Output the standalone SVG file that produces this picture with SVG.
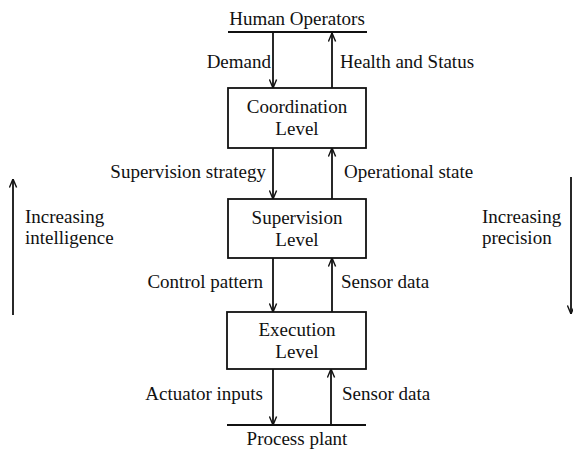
<svg xmlns="http://www.w3.org/2000/svg" width="573" height="450" viewBox="0 0 573 450">
<style>
text{font-family:"Liberation Serif","Times New Roman",serif;font-size:19px;fill:#111}
.c{text-anchor:middle}
.e{text-anchor:end}
.box{fill:#fff;stroke:#111;stroke-width:1.8}
.ln{stroke:#111;stroke-width:1.8;fill:none}
.ar{stroke:#111;stroke-width:1.8;fill:none;marker-end:url(#ah)}
</style>
<defs>
<marker id="ah" viewBox="0 0 10 10" refX="9.5" refY="5" markerWidth="9" markerHeight="9" markerUnits="userSpaceOnUse" orient="auto">
<path d="M0,1 L9.5,5 L0,9" fill="none" stroke="#111" stroke-width="1.6"/>
</marker>
</defs>
<rect width="573" height="450" fill="#fff"/>
<g id="human-operators">
<text class="c" x="297" y="25">Human Operators</text>
<line class="ln" x1="228" y1="32" x2="367" y2="32"/>
</g>
<g id="coordination-level">
<rect class="box" x="228" y="88" width="138" height="60"/>
<text class="c" x="297" y="113">Coordination</text>
<text class="c" x="297" y="135">Level</text>
</g>
<g id="supervision-level">
<rect class="box" x="228" y="199" width="138" height="59"/>
<text class="c" x="297" y="224">Supervision</text>
<text class="c" x="297" y="246">Level</text>
</g>
<g id="execution-level">
<rect class="box" x="227" y="312" width="139" height="57"/>
<text class="c" x="297" y="336">Execution</text>
<text class="c" x="297" y="358">Level</text>
</g>
<g id="process-plant">
<line class="ln" x1="227" y1="425" x2="366" y2="425"/>
<text class="c" x="297" y="445">Process plant</text>
</g>
<g id="connectors">
<line class="ar" x1="273" y1="32" x2="273" y2="88"/>
<line class="ar" x1="332" y1="88" x2="332" y2="33"/>
<line class="ar" x1="273" y1="148" x2="273" y2="199"/>
<line class="ar" x1="332" y1="199" x2="332" y2="148"/>
<line class="ar" x1="273" y1="258" x2="273" y2="312"/>
<line class="ar" x1="332" y1="312" x2="332" y2="258"/>
<line class="ar" x1="273" y1="369" x2="273" y2="425"/>
<line class="ar" x1="331" y1="425" x2="331" y2="369"/>
<line class="ar" x1="13" y1="315" x2="13" y2="179"/>
<line class="ar" x1="571" y1="177" x2="571" y2="314"/>
</g>
<g id="labels">
<text class="e" x="271" y="68">Demand</text>
<text x="340" y="68">Health and Status</text>
<text class="e" x="266" y="178">Supervision strategy</text>
<text x="344" y="178">Operational state</text>
<text class="e" x="263" y="288">Control pattern</text>
<text x="341" y="288">Sensor data</text>
<text class="e" x="263" y="400">Actuator inputs</text>
<text x="342" y="400">Sensor data</text>
<text x="25" y="223">Increasing</text>
<text x="25" y="244">intelligence</text>
<text x="482" y="223">Increasing</text>
<text x="482" y="244">precision</text>
</g>
</svg>
